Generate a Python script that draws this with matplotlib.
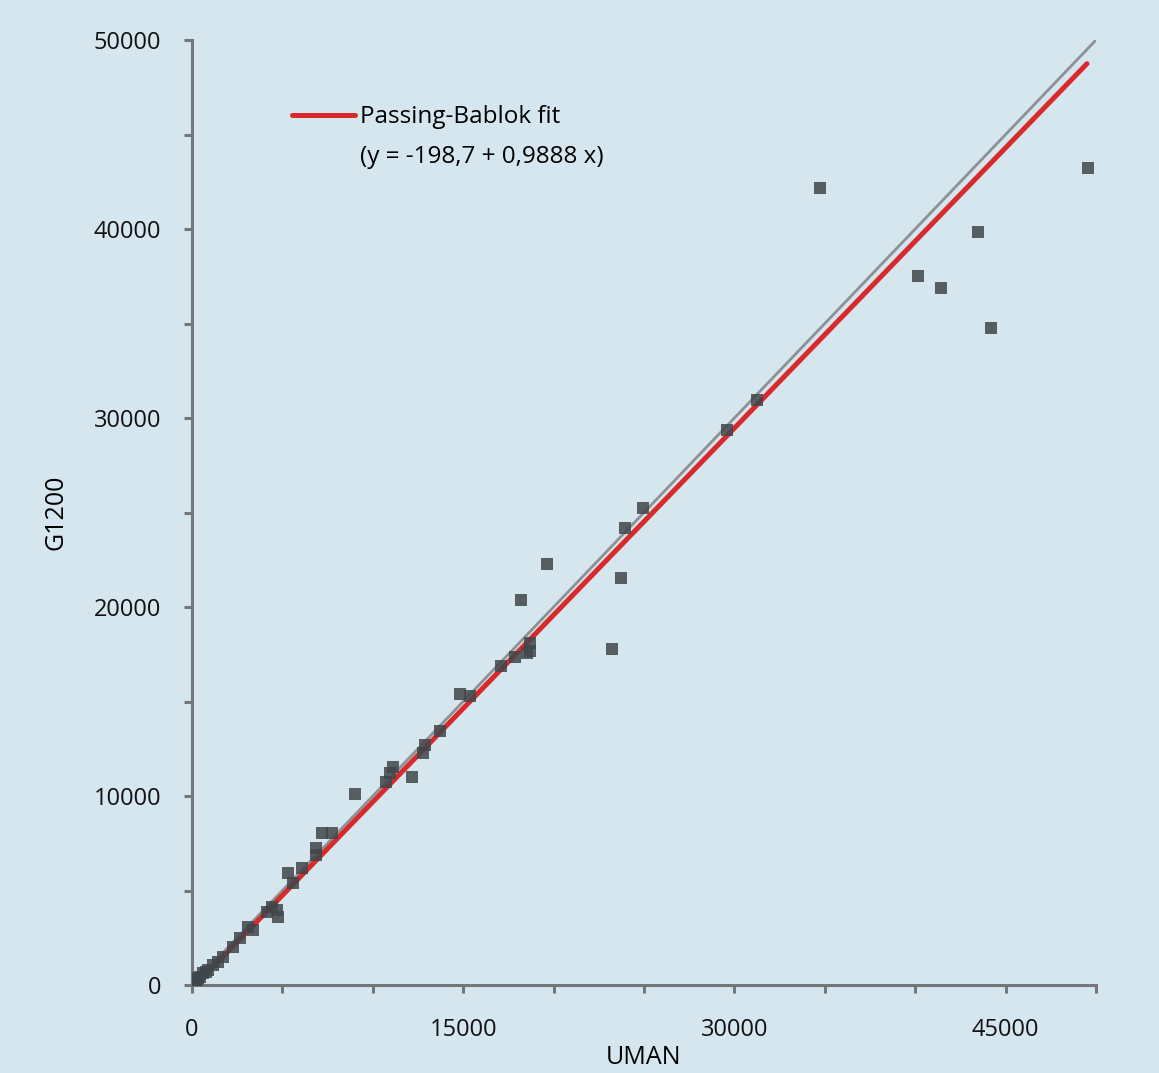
import numpy as np
import matplotlib.pyplot as plt
from matplotlib.lines import Line2D

# --- data ---
uman = [50, 100, 170, 250, 330, 450, 610, 750, 890, 1160, 1440, 1720,
        2270, 2660, 3100, 3380, 4150, 4430, 4700, 4760, 5310, 5590, 6090,
        6860, 6860, 7200, 7750, 9020, 10740, 10960, 11130, 12180, 12790,
        12900, 13730, 14830, 15390, 17100, 17880, 18540, 18710, 18700,
        18210, 19650, 23250, 23750, 23970, 24960, 29610, 31270, 34760,
        40180, 41400, 43500, 44220, 49540]
g1200 = [100, 60, 160, 250, 370, 420, 640, 700, 790, 1060, 1220, 1480,
         2010, 2490, 3070, 2910, 3860, 4130, 3970, 3600, 5930, 5400, 6190,
         6880, 7250, 8040, 8040, 10110, 10740, 11220, 11530, 11000, 12280,
         12700, 13440, 15400, 15290, 16880, 17350, 17570, 18100, 17670,
         20370, 22280, 17780, 21530, 24180, 25240, 29370, 30950, 42170,
         37510, 36880, 39840, 34760, 43230]

# Passing-Bablok fit
INTERCEPT = -198.7
SLOPE = 0.9888
fit_x = np.array([0, 49500])
ident_x = np.array([0, 50000])

BG = '#d5e6ee'
AXIS_GRAY = '#737779'
FONT = 'Open Sans'

fig = plt.figure(figsize=(11.59, 10.73), dpi=100, facecolor=BG)
ax = fig.add_axes([192 / 1159, 88 / 1073, 904 / 1159, 945 / 1073])
ax.set_facecolor(BG)

ax.plot(ident_x, ident_x, color='#8c9194', lw=2.0, zorder=2)
ax.plot(fit_x, INTERCEPT + SLOPE * fit_x, color='#d82a2a', lw=3.6,
        solid_capstyle='round', zorder=3)
ax.scatter(uman, g1200, marker='s', s=85, color='#40464a', alpha=0.85,
           linewidths=0, zorder=4)

ax.set_xlim(0, 50000)
ax.set_ylim(0, 50000)
ax.set_xticks(np.arange(0, 50001, 5000))
ax.set_xticklabels([str(v) if v % 15000 == 0 else '' for v in range(0, 50001, 5000)])
ax.set_yticks(np.arange(0, 50001, 5000))
ax.set_yticklabels([str(v) if v % 10000 == 0 else '' for v in range(0, 50001, 5000)])

for side in ['top', 'right']:
    ax.spines[side].set_visible(False)
for side in ['left', 'bottom']:
    ax.spines[side].set_color(AXIS_GRAY)
    ax.spines[side].set_linewidth(2.2)
ax.tick_params(axis='both', direction='out', length=6, width=2.2,
               color=AXIS_GRAY, labelsize=17, labelcolor='#111111')
ax.tick_params(axis='x', pad=18)
ax.tick_params(axis='y', pad=16)
for lab in ax.get_xticklabels() + ax.get_yticklabels():
    lab.set_family(FONT)

ax.set_xlabel('UMAN', fontsize=18, family=FONT, labelpad=2)
ax.set_ylabel('G1200', fontsize=18, family=FONT, labelpad=18)

handle = Line2D([], [], color='#d82a2a', lw=3.6, solid_capstyle='round')
blank = Line2D([], [], color='none')
ax.legend([handle, blank], ['Passing-Bablok fit', '(y = -198,7 + 0,9888 x)'],
          loc='upper left', bbox_to_anchor=(0.1106, 0.931), frameon=False,
          borderpad=0, borderaxespad=0,
          handlelength=2.6, handletextpad=0.2, labelspacing=0.65,
          prop={'family': FONT, 'size': 17.5})

fig.savefig('out.png', dpi=100, facecolor=BG)
